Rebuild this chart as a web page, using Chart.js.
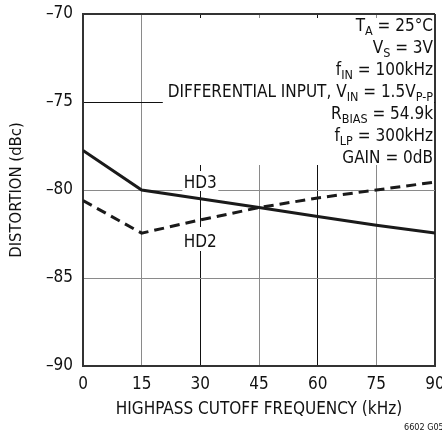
<!DOCTYPE html>
<html>
<head>
<meta charset="utf-8">
<script src="https://cdn.jsdelivr.net/npm/chart.js@4"></script>
<style>
  html, body { margin: 0; padding: 0; background: #fff; }
  #wrap { width: 442px; height: 434px; }
</style>
</head>
<body>
<div id="wrap"><canvas id="chart"></canvas></div>
<script>
// ── Data ──
const freqKHz = [0, 15, 30, 45, 60, 75, 90];
const hd3 = [-77.75, -80.0, -80.5, -81.0, -81.5, -82.0, -82.45];
const hd2 = [-80.6, -82.45, -81.7, -81.0, -80.45, -80.0, -79.55];
const yTicks = [-90, -85, -80, -75, -70];

// text segments: [text, isSubscript]
const noteLines = [
  [['T', 0], ['A', 1], [' = 25°C', 0]],
  [['V', 0], ['S', 1], [' = 3V', 0]],
  [['f', 0], ['IN', 1], [' = 100kHz', 0]],
  [['DIFFERENTIAL INPUT, V', 0], ['IN', 1], [' = 1.5V', 0], ['P-P', 1]],
  [['R', 0], ['BIAS', 1], [' = 54.9k', 0]],
  [['f', 0], ['LP', 1], [' = 300kHz', 0]],
  [['GAIN = 0dB', 0]],
];

const FONT = "'Liberation Sans Narrow', 'DejaVu Sans Condensed', sans-serif";
const INK = '#111';
const FRAME = '#333';
const GRID = '#8a8a8a';

// ── Annotation plugin (drawn under the curves) ──
const notes = {
  id: 'notes',
  beforeDatasetsDraw(chart) {
    const { ctx, chartArea: a, scales: { x } } = chart;
    const big = '17px ' + FONT, small = '12.5px ' + FONT;
    ctx.save();

    const widths = noteLines.map(segs => segs.reduce((w, [t, sub]) => {
      ctx.font = sub ? small : big;
      return w + ctx.measureText(t).width;
    }, 0));
    const maxW = Math.max(...widths);

    // white patches that break the grid behind the labels
    ctx.fillStyle = '#fff';
    ctx.fillRect(a.right - 3 - maxW - 4, a.top + 4, maxW + 6, 147);
    const cx = x.getPixelForValue(30);
    ctx.fillRect(cx - 18, a.top + 157, 36, 20);
    ctx.fillRect(cx - 18, a.top + 213, 36, 24);

    ctx.fillStyle = INK;
    ctx.textBaseline = 'alphabetic';
    noteLines.forEach((segs, i) => {
      const base = a.top + 17 + i * 22;
      let px = a.right - 2 - widths[i];
      segs.forEach(([t, sub]) => {
        ctx.font = sub ? small : big;
        ctx.fillText(t, px, base + (sub ? 4 : 0));
        px += ctx.measureText(t).width;
      });
    });

    ctx.font = big;
    ctx.textAlign = 'center';
    ctx.fillText('HD3', cx, a.top + 174);
    ctx.fillText('HD2', cx, a.top + 233);

    ctx.font = '9px ' + FONT;
    ctx.textAlign = 'left';
    ctx.fillText('6602 G05', 404, chart.height - 4);
    ctx.restore();
  },
};

const pickColor = (ctx, edges, dark) => {
  const v = ctx.tick.value;
  if (edges.includes(v)) return FRAME;
  return dark.includes(v) ? INK : GRID;
};

new Chart(document.getElementById('chart'), {
  type: 'line',
  data: {
    labels: freqKHz,
    datasets: [
      {
        label: 'HD3',
        data: freqKHz.map((f, i) => ({ x: f, y: hd3[i] })),
        borderColor: '#1a1a1a',
        borderWidth: 3,
        pointRadius: 0,
        tension: 0,
      },
      {
        label: 'HD2',
        data: freqKHz.map((f, i) => ({ x: f, y: hd2[i] })),
        borderColor: '#1a1a1a',
        borderWidth: 3,
        borderDash: [10, 6],
        pointRadius: 0,
        tension: 0,
      },
    ],
  },
  options: {
    responsive: true,
    maintainAspectRatio: false,
    animation: false,
    layout: { padding: { top: 14, right: 7, left: 0, bottom: 0 } },
    plugins: {
      legend: { display: false },
      tooltip: { enabled: false },
    },
    scales: {
      x: {
        type: 'linear',
        min: 0,
        max: 90,
        afterFit: s => { s.height = 68; s.paddingRight = 0; s.paddingLeft = 0; },
        ticks: {
          stepSize: 15,
          color: INK,
          padding: 8,
          font: { family: FONT, size: 17 },
        },
        grid: {
          drawTicks: false,
          color: c => pickColor(c, [90], [30, 60]),
          lineWidth: c => (c.tick.value === 90 ? 2 : 1),
        },
        border: { color: FRAME, width: 2 },
        title: {
          display: true,
          text: 'HIGHPASS CUTOFF FREQUENCY (kHz)',
          color: INK,
          font: { family: FONT, size: 17 },
          padding: { top: 0, bottom: 14 },
        },
      },
      y: {
        min: -90,
        max: -70,
        afterFit: s => { s.width = 83; s.paddingTop = 0; s.paddingBottom = 0; },
        afterBuildTicks: s => { s.ticks = yTicks.map(v => ({ value: v })); },
        ticks: {
          color: INK,
          padding: 10,
          font: { family: FONT, size: 17 },
          callback: v => String(v).replace('-', '\u2013'),
        },
        grid: {
          drawTicks: false,
          color: c => pickColor(c, [-90, -70], [-75]),
          lineWidth: c => (c.tick.value === -70 ? 2 : 1),
        },
        border: { color: FRAME, width: 2 },
        title: {
          display: true,
          text: 'DISTORTION (dBc)',
          color: INK,
          font: { family: FONT, size: 16.5 },
          padding: { top: 7, bottom: 0 },
        },
      },
    },
  },
  plugins: [notes],
});
</script>
</body>
</html>
